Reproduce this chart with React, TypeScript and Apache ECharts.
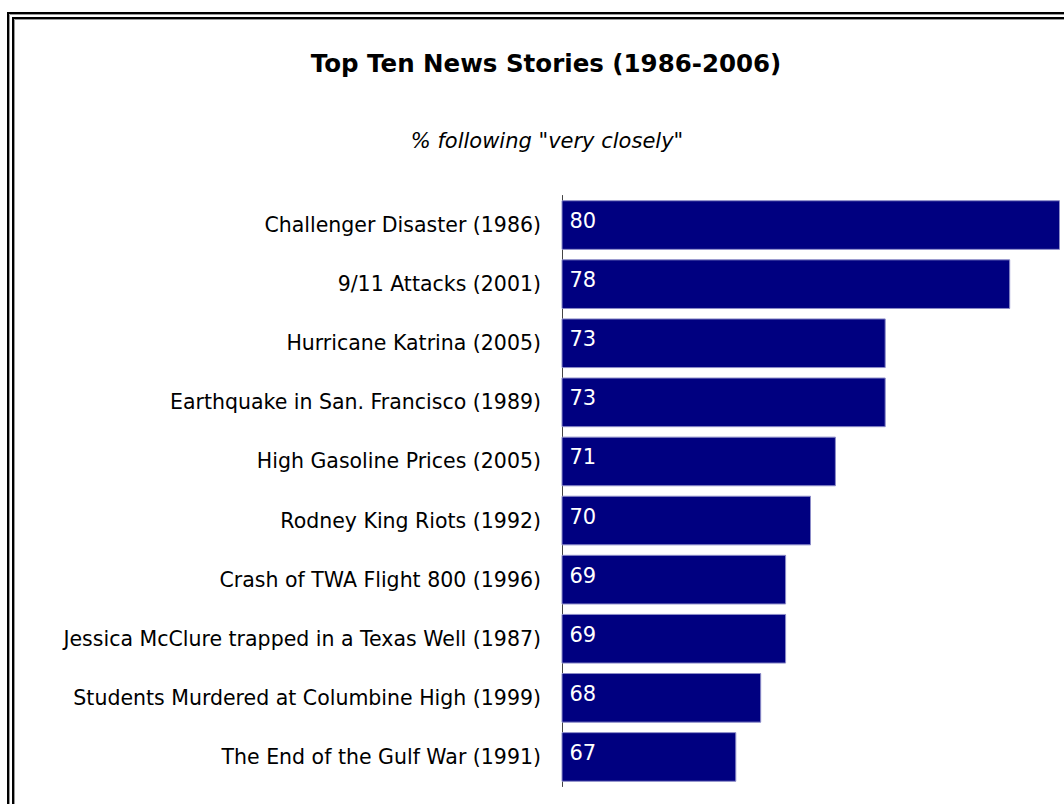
import React, { useEffect, useRef } from "react";
import * as echarts from "echarts";

const titleText = "Top Ten News Stories (1986-2006)";
const subtitleText = '% following "very closely"';

const categories = [
  "Challenger Disaster (1986)",
  "9/11 Attacks (2001)",
  "Hurricane Katrina (2005)",
  "Earthquake in San. Francisco (1989)",
  "High Gasoline Prices (2005)",
  "Rodney King Riots (1992)",
  "Crash of TWA Flight 800 (1996)",
  "Jessica McClure trapped in a Texas Well (1987)",
  "Students Murdered at Columbine High (1999)",
  "The End of the Gulf War (1991)",
];

const values = [80, 78, 73, 73, 71, 70, 69, 69, 68, 67];

const FONT = "'DejaVu Sans', Verdana, sans-serif";

export default function App() {
  const ref = useRef<HTMLDivElement>(null);

  useEffect(() => {
    if (!ref.current) return;
    const chart = echarts.init(ref.current, null, { renderer: "svg" });
    chart.setOption({
      animation: false,
      backgroundColor: "#ffffff",
      title: [
        {
          text: titleText,
          left: 541,
          textAlign: "center",
          top: 46,
          textStyle: {
            fontFamily: FONT,
            fontSize: 24.5,
            fontWeight: "bold",
            color: "#000",
          },
        },
        {
          text: subtitleText,
          left: 542,
          textAlign: "center",
          top: 125,
          textStyle: {
            fontFamily: FONT,
            fontSize: 21,
            fontStyle: "italic",
            fontWeight: "normal",
            color: "#000",
          },
        },
      ],
      graphic: [
        {
          type: "rect",
          shape: { x: 8, y: 13, width: 1120, height: 860 },
          style: { fill: "none", stroke: "#000", lineWidth: 2 },
          silent: true,
        },
        {
          type: "rect",
          shape: { x: 9.5, y: 14.5, width: 1120, height: 860 },
          style: { fill: "none", stroke: "#999", lineWidth: 1 },
          silent: true,
        },
        {
          type: "rect",
          shape: { x: 13, y: 18, width: 1120, height: 860 },
          style: { fill: "none", stroke: "#000", lineWidth: 2 },
          silent: true,
        },
        {
          type: "rect",
          shape: { x: 14.5, y: 19.5, width: 1120, height: 860 },
          style: { fill: "none", stroke: "#999", lineWidth: 1 },
          silent: true,
        },
      ],
      grid: {
        left: 562,
        right: 4,
        top: 195.5,
        bottom: 17.5,
        containLabel: false,
      },
      xAxis: {
        type: "value",
        min: 60,
        max: 80,
        show: false,
      },
      yAxis: {
        type: "category",
        inverse: true,
        data: categories,
        axisLine: { show: true, lineStyle: { color: "#444", width: 1 } },
        axisTick: { show: false },
        splitLine: { show: false },
        axisLabel: {
          fontFamily: FONT,
          fontSize: 20.5,
          color: "#000",
          margin: 21,
        },
      },
      series: [
        {
          type: "bar",
          data: values,
          barCategoryGap: "16%",
          itemStyle: {
            color: "#000080",
            borderColor: "#8c8cc8",
            borderWidth: 1,
          },
          label: {
            show: true,
            position: "insideLeft",
            distance: 8,
            offset: [0, -4],
            color: "#ffffff",
            fontFamily: FONT,
            fontSize: 21,
          },
        },
      ],
    });
    return () => chart.dispose();
  }, []);

  return (
    <div
      ref={ref}
      style={{
        position: "fixed",
        left: 0,
        top: 0,
        width: 1064,
        height: 804,
        background: "#fff",
      }}
    />
  );
}
